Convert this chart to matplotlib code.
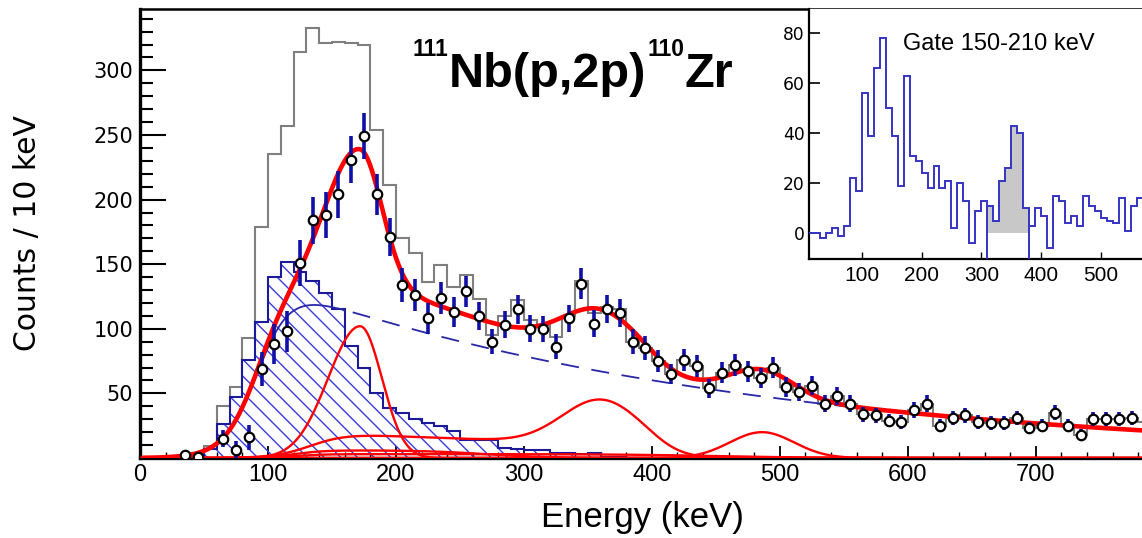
import numpy as np
import matplotlib
matplotlib.use("Agg")
import matplotlib.pyplot as plt
from matplotlib.ticker import MultipleLocator

# ---------------- data ----------------
# data points (background-subtracted spectrum), bin centres in keV
point_energy = [35, 45, 65, 75, 85, 95, 105, 115, 125, 135, 145, 155, 165, 175, 185, 195,
                205, 215, 225, 235, 245, 255, 265, 275, 285, 295, 305, 315, 325, 335, 345,
                355, 365, 375, 385, 395, 405, 415, 425, 435, 445, 455, 465, 475, 485, 495,
                505, 515, 525, 535, 545, 555, 565, 575, 585, 595, 605, 615, 625, 635, 645,
                655, 665, 675, 685, 695, 705, 715, 725, 735, 745, 755, 765, 775]
point_counts = [2, 1, 15, 6, 16, 69, 88, 98, 151, 184, 188, 204, 231, 249, 204, 171,
                134, 126, 108, 124, 113, 129, 110, 90, 103, 115, 100, 100, 86, 108, 135,
                104, 115, 112, 90, 85, 75, 65, 76, 71, 54, 66, 72, 67, 62, 70,
                55, 51, 56, 42, 48, 42, 34, 33, 29, 28, 37, 42, 25, 31, 33,
                28, 27, 27, 31, 23, 25, 35, 25, 18, 30, 30, 30, 31]

# grey histogram (total spectrum), 10 keV bins from 0 to 790 keV
grey_edges = list(range(0, 800, 10))
grey_counts = [0, 0, 1, 2, 2, 9, 40, 55, 93, 179, 235, 257, 314, 333, 321, 322, 321, 320,
               254, 211, 170, 159, 136, 149, 132, 142, 123, 95, 110, 122, 107, 103, 94, 110,
               137, 112, 117, 115, 90, 85, 75, 65, 76, 71, 54, 66, 72, 67, 62, 70, 55, 51,
               56, 42, 48, 42, 34, 33, 29, 28, 37, 42, 25, 31, 33, 28, 27, 27, 31, 23, 25,
               35, 25, 18, 30, 30, 30, 31, 28]

# hatched histogram (subtracted component), 10 keV bins from 40 to 390 keV
hatch_edges = list(range(40, 400, 10))
hatch_counts = [2, 7, 26.5, 47, 75.5, 105, 140, 152, 144, 137, 128, 115, 87, 70, 50, 39,
                35, 30, 27, 25, 21, 14, 14, 14, 8, 7, 6, 6, 4, 4, 3, 4, 1, 1, 0]

# fit model parameters
bg_params = [112, 170, 370]            # amplitude, reference energy, decay length
threshold_params = [93, 13]            # efficiency threshold centre, width
peak1_params = [102, 172, 25, 17]      # amplitude, centroid, sigma_left, sigma_right
peak2_params = [34, 360, 30]           # amplitude, centroid, sigma
peak3_params = [20, 486, 25]
cont_a_params = [17, 135, 14, 405, 10, 400]
cont_b_params = [6, 120, 12, 270, 25]
cont_c_params = [3, 120, 12, 450, 40]

# inset: gated spectrum, 10 keV bins from 10 to 570 keV
inset_edges = list(range(10, 580, 10))
inset_counts = [0, 0, -2, 0, 2, -1, 3, 22, 17, 56, 39, 66, 78, 50, 39, 19, 63, 31, 29, 24,
                18, 27, 18, 21, 2, 20, 13, -4, 9, 13, 11, 5, 21, 26, 43, 40, 10, 3, 10, 7,
                -6, 15, 13, 4, 7, 3, 15, 11, 9, 6, 5, 4, 14, 1, 11, 14]
gate_range = [310, 380]

title_parts = ["111", "Nb(p,2p)", "110", "Zr"]
inset_label = "Gate 150-210 keV"

# ---------------- helpers ----------------
def logistic(x):
    return 1.0 / (1.0 + np.exp(-x))

def threshold(E):
    c, w = threshold_params
    return logistic((E - c) / w)

def background(E):
    a, e0, d = bg_params
    return a * np.exp(-(E - e0) / d) * threshold(E)

def peak1(E):
    a, mu, sl, sr = peak1_params
    s = np.where(E < mu, sl, sr)
    return a * np.exp(-0.5 * ((E - mu) / s) ** 2)

def gauss(E, p):
    a, mu, s = p
    return a * np.exp(-0.5 * ((E - mu) / s) ** 2)

def cont_a(E):
    a, e1, w1, e2, w2, d = cont_a_params
    return a * logistic((E - e1) / w1) * logistic(-(E - e2) / w2) * np.exp(-(E - 200) / d)

def cont_hump(E, p):
    a, e1, w1, e2, w2 = p
    return a * logistic((E - e1) / w1) * logistic(-(E - e2) / w2)

# ---------------- figure ----------------
W, H = 1142, 538
fig = plt.figure(figsize=(W / 100, H / 100), dpi=100)
fig.patch.set_facecolor("white")

def fx(px):
    return px / W

def fy(py):
    return 1 - py / H

ax = fig.add_axes([fx(140), fy(458), fx(1142) - fx(140), fy(9) - fy(458)])
ax.set_xlim(0, 783)
ax.set_ylim(0, 347.5)

E = np.linspace(2, 800, 1600)

# grey histogram
ax.stairs(grey_counts, grey_edges, color="#7f7f7f", lw=1.5, zorder=2)
# hatched histogram
plt.rcParams["hatch.linewidth"] = 1.0
ax.stairs(hatch_counts, hatch_edges, fill=True, facecolor="none", edgecolor="#3a3ae0",
          hatch="\\\\", lw=0, zorder=2.2)
ax.stairs(hatch_counts, hatch_edges, color="#1a1a9a", lw=1.5, zorder=2.4)

# background curve (solid at low energy, dashed above)
E_low = E[E <= 160]
E_high = E[E >= 166]
ax.plot(E_low, background(E_low), color="#2828a8", lw=1.3, zorder=3)
ax.plot(E_high, background(E_high), color="#2828a8", lw=1.3, zorder=3,
        dashes=(10, 7))

# thin red components
thin_kw = dict(color="#ff0000", lw=1.7, zorder=4)
ax.plot(E, peak1(E), **thin_kw)
ax.plot(E, cont_a(E) + gauss(E, peak2_params), **thin_kw)
ax.plot(E, gauss(E, peak3_params), **thin_kw)
ax.plot(E, cont_hump(E, cont_b_params), **thin_kw)
ax.plot(E, cont_hump(E, cont_c_params), **thin_kw)

# total fit
total = (background(E) + peak1(E) + cont_a(E) + gauss(E, peak2_params)
         + gauss(E, peak3_params) + cont_hump(E, cont_b_params) + cont_hump(E, cont_c_params))
ax.plot(E, total, color="#ff0000", lw=3.3, zorder=5, solid_capstyle="round")

# data points with Poisson errors of the total spectrum
grey_lookup = dict(zip([e + 5 for e in grey_edges[:-1]], grey_counts))
errors = [np.sqrt(max(grey_lookup.get(e, c), 1)) for e, c in zip(point_energy, point_counts)]
ax.errorbar(point_energy, point_counts, yerr=errors, fmt="none", ecolor="#1010a8",
            elinewidth=2.6, capsize=0, zorder=6)
ax.plot(point_energy, point_counts, "o", ms=6.8, mfc="white", mec="black", mew=1.6,
        zorder=7, ls="none")

# axes styling
for side in ["left", "bottom"]:
    ax.spines[side].set_linewidth(2.4)
ax.spines["top"].set_linewidth(1.8)
ax.spines["right"].set_visible(False)

ax.set_xticks(range(0, 800, 100), labels=[str(v) for v in range(0, 800, 100)],
              fontfamily="Liberation Sans", fontsize=17)
ax.xaxis.set_minor_locator(MultipleLocator(20))
ax.set_yticks(range(0, 301, 50), labels=[""] + [str(v) for v in range(50, 301, 50)],
              fontfamily="DejaVu Sans", fontsize=15)
ax.yaxis.set_minor_locator(MultipleLocator(10))
ax.tick_params(axis="x", which="major", direction="in", length=8.5, width=1.3, pad=4)
ax.tick_params(axis="x", which="minor", direction="in", length=4.3, width=1.0)
ax.tick_params(axis="y", which="major", direction="in", length=19, width=1.5, pad=5)
ax.tick_params(axis="y", which="minor", direction="in", length=9.5, width=1.5)
ax.tick_params(top=False, right=False, which="both")

fig.text(fx(642), fy(517), "Energy (keV)", ha="center", va="center",
         fontfamily="Liberation Sans", fontsize=25)
fig.text(fx(28), fy(233), "Counts / 10 keV", ha="center", va="center", rotation=90,
         fontfamily="DejaVu Sans", fontsize=21.5)

# title with superscripts, placed piece by piece
renderer = fig.canvas.get_renderer()
x_px = 413
sizes = [16.5, 35, 16.5, 35]
baselines = [56, 86.7, 56, 86.7]
for part, size, base in zip(title_parts, sizes, baselines):
    t = fig.text(fx(x_px), fy(base), part, fontsize=size, fontweight="bold",
                 fontfamily="Liberation Sans", ha="left", va="baseline")
    bb = t.get_window_extent(renderer)
    x_px = bb.x1 + 0.5

# ---------------- inset ----------------
axi = fig.add_axes([fx(809), fy(259), fx(1142) - fx(809), fy(9) - fy(259)])
axi.set_facecolor("white")
axi.set_xlim(12, 568.3)
axi.set_ylim(-10.4, 89.6)

edges_arr = np.array(inset_edges)
counts_arr = np.array(inset_counts, dtype=float)
in_gate = (edges_arr[:-1] >= gate_range[0]) & (edges_arr[1:] <= gate_range[1])
axi.stairs(counts_arr[in_gate], edges_arr[np.r_[in_gate, False] | np.r_[False, in_gate]],
           baseline=0, fill=True, color="#c8c8c8", lw=0, zorder=1)
axi.stairs(counts_arr, edges_arr, color="#3434c4", lw=1.4, zorder=3)
for g in gate_range:
    idx = inset_edges.index(g)
    top = min(counts_arr[idx - 1], counts_arr[idx])
    axi.vlines(g, -10.4, top, color="#3434c4", lw=1.4, zorder=3)

for side in ["left", "bottom"]:
    axi.spines[side].set_linewidth(1.6)
axi.spines["top"].set_visible(False)
axi.spines["right"].set_visible(False)
axi.set_yticks([0, 20, 40, 60, 80], labels=["0", "20", "40", "60", "80"],
               fontfamily="DejaVu Sans", fontsize=12.3)
axi.set_xticks([100, 200, 300, 400, 500], labels=["100", "200", "300", "400", "500"],
               fontfamily="Liberation Sans", fontsize=15)
axi.tick_params(axis="y", direction="in", length=8, width=1.2, pad=3)
axi.tick_params(axis="x", direction="in", length=5, width=1.0, pad=5)
axi.text(0.283, 0.838, inset_label, transform=axi.transAxes, ha="left", va="baseline",
         fontfamily="Liberation Sans", fontsize=17)

fig.savefig("out.png", dpi=100, facecolor="white")
